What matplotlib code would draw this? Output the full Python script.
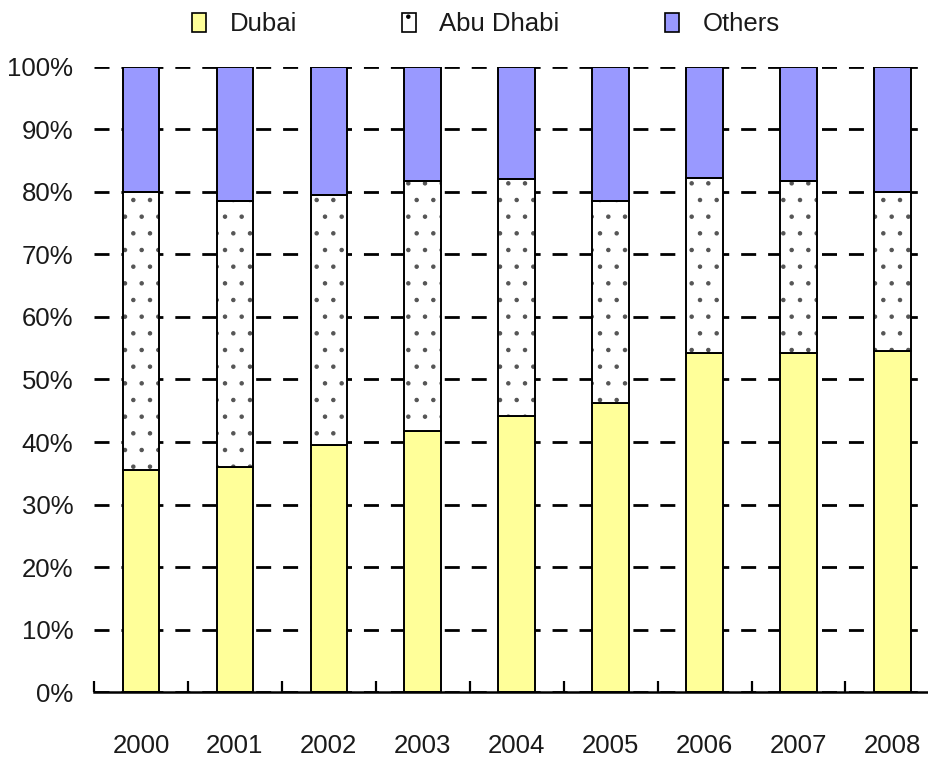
import numpy as np
from matplotlib import pyplot as plt
from matplotlib import font_manager
from matplotlib.patches import Patch

years = ['2000', '2001', '2002', '2003', '2004', '2005', '2006', '2007', '2008']
dubai = [35.5, 36.0, 39.5, 41.8, 44.1, 46.3, 54.2, 54.2, 54.6]
abu_dhabi = [44.5, 42.6, 40.0, 39.9, 37.9, 32.3, 28.0, 27.5, 25.4]
others = [20.0, 21.4, 20.5, 18.3, 18.0, 21.4, 17.8, 18.3, 20.0]
y_ticks = [0, 10, 20, 30, 40, 50, 60, 70, 80, 90, 100]

# narrow sans if we have it, plain otherwise
names = {f.name for f in font_manager.fontManager.ttflist}
if 'Liberation Sans Narrow' in names:
    family, size = 'Liberation Sans Narrow', 21
else:
    family, size = 'Liberation Sans', 18.5
plt.rcParams['font.family'] = [family, 'DejaVu Sans']
plt.rcParams['lines.scale_dashes'] = False
plt.rcParams['hatch.linewidth'] = 0.8

fig = plt.figure(figsize=(9.29, 7.58), dpi=100)
ax = fig.add_axes([0.1012, 0.0867, 0.910, 0.8254])

x = np.arange(len(years))
w = 0.39
dubai = np.array(dubai)
abu_dhabi = np.array(abu_dhabi)
others = np.array(others)

ax.bar(x, dubai, w, color='#ffff99', edgecolor='black', linewidth=1.4, zorder=2)
# dotted fill first, then the black outline on top
ax.bar(x, abu_dhabi, w, bottom=dubai, color='white', edgecolor='#555555',
       hatch='.', linewidth=0, zorder=2)
ax.bar(x, abu_dhabi, w, bottom=dubai, fill=False, edgecolor='black',
       linewidth=1.4, zorder=3)
ax.bar(x, others, w, bottom=dubai + abu_dhabi, color='#9999ff',
       edgecolor='black', linewidth=1.4, zorder=2)

ax.set_xlim(-0.5, 8.5)
ax.set_ylim(0, 100)
ax.set_yticks(y_ticks)
ax.set_yticklabels([f'{t}%' for t in y_ticks])
ax.set_xticks(x)
ax.set_xticklabels(years)
ax.set_xticks(np.arange(-0.5, 8.5, 1), minor=True)

ax.yaxis.grid(True, color='black', linewidth=2, linestyle=(0, (10.8, 8.6)), zorder=0)
ax.set_axisbelow(True)

for side in ['top', 'right', 'left']:
    ax.spines[side].set_visible(False)
ax.spines['bottom'].set_linewidth(1.8)
ax.spines['bottom'].set_zorder(4)

ax.tick_params(axis='y', length=0, pad=15, labelsize=size, labelcolor='#1a1a1a')
ax.tick_params(axis='x', which='major', length=0, pad=30, labelsize=size,
               labelcolor='#1a1a1a')
ax.tick_params(axis='x', which='minor', direction='in', length=8, width=1.6)

handles = [
    Patch(facecolor='#ffff99', edgecolor='black', linewidth=1.2),
    Patch(facecolor='white', edgecolor='black', linewidth=1.2, hatch='.'),
    Patch(facecolor='#9999ff', edgecolor='black', linewidth=1.2),
]
fig.legend(handles, ['Dubai', 'Abu Dhabi', 'Others'], loc='center',
           bbox_to_anchor=(0.523, 0.968), ncol=3, frameon=False,
           fontsize=size, handlelength=0.55, handleheight=0.75,
           handletextpad=0.9, columnspacing=4.1, labelcolor='#1a1a1a')

fig.savefig('out.png', dpi=100)
